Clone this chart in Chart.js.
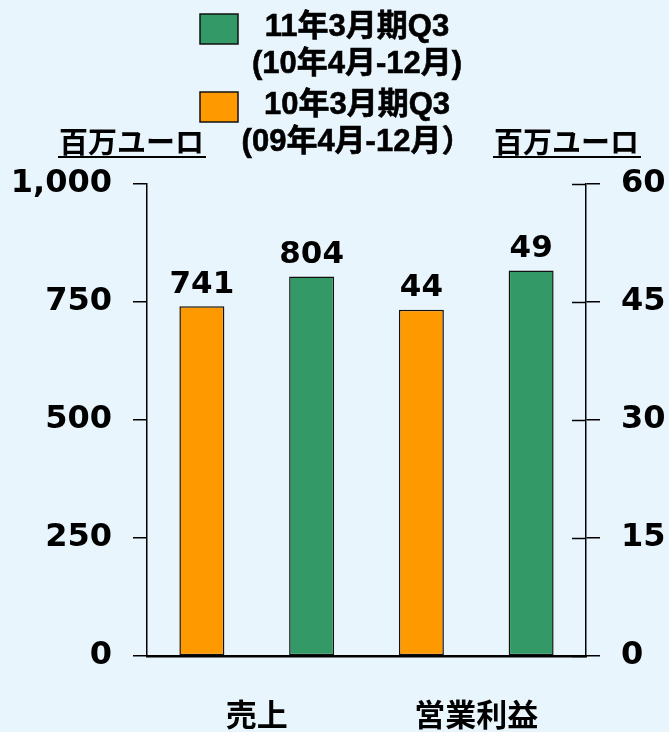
<!DOCTYPE html>
<html>
<head>
<meta charset="utf-8">
<script src="https://cdn.jsdelivr.net/npm/chart.js@4"></script>
<style>
  html, body { margin: 0; padding: 0; background: #e9f5fd; }
  canvas { display: block; }
</style>
</head>
<body>
<canvas id="chart" width="669" height="732"></canvas>
<script>
// categories and the two fiscal periods
const categories = ['売上', '営業利益'];
const currentLabel = ['11年3月期Q3', '(10年4月-12月)'];
const previousLabel = ['10年3月期Q3', '(09年4月-12月）'];
const unitLabel = '百万ユーロ';

// values: [売上, 営業利益]
const previousValues = [741, 44];
const currentValues = [804, 49];

const salesTicks = [0, 250, 500, 750, 1000];
const profitTicks = [0, 15, 30, 45, 60];

const GREEN = '#339966';
const ORANGE = '#ff9900';
const numFont = { family: "'DejaVu Sans', sans-serif", size: 32, weight: 'bold' };

// sales on the left scale, operating profit on the right scale
const onlyAt = (arr, i) => arr.map((v, j) => (j === i ? v : null));

const datasets = [
  { label: previousLabel.join(' '), data: onlyAt(previousValues, 0), backgroundColor: ORANGE, yAxisID: 'ySales' },
  { label: currentLabel.join(' '), data: onlyAt(currentValues, 0), backgroundColor: GREEN, yAxisID: 'ySales' },
  { label: previousLabel.join(' '), data: onlyAt(previousValues, 1), backgroundColor: ORANGE, yAxisID: 'yProfit' },
  { label: currentLabel.join(' '), data: onlyAt(currentValues, 1), backgroundColor: GREEN, yAxisID: 'yProfit' },
].map(d => ({ ...d, borderColor: '#111', borderWidth: 1.5, borderSkipped: false }));

const bgPlugin = {
  id: 'bg',
  beforeDraw(chart) {
    const { ctx, width, height } = chart;
    ctx.save();
    ctx.fillStyle = '#e9f5fd';
    ctx.fillRect(0, 0, width, height);
    ctx.restore();
  }
};

const decorPlugin = {
  id: 'decor',
  afterDraw(chart) {
    const { ctx } = chart;
    ctx.save();

    // legend
    const legendFont = "bold 31px 'Liberation Sans', 'Noto Sans CJK JP', sans-serif";
    const rows = [
      { color: GREEN, lines: currentLabel, top: 14 },
      { color: ORANGE, lines: previousLabel, top: 92 },
    ];
    ctx.font = legendFont;
    ctx.textAlign = 'center';
    ctx.textBaseline = 'middle';
    rows.forEach(r => {
      ctx.fillStyle = r.color;
      ctx.fillRect(200, r.top, 38, 30);
      ctx.strokeStyle = '#111';
      ctx.lineWidth = 1.5;
      ctx.strokeRect(200, r.top, 38, 30);
      ctx.fillStyle = '#000';
      ctx.strokeStyle = '#000';
      ctx.lineWidth = 0.6;
      r.lines.forEach((t, k) => {
        ctx.fillText(t, 357, r.top + 13 + k * 37);
        ctx.strokeText(t, 357, r.top + 13 + k * 37);
      });
    });

    // unit titles above both axes
    ctx.font = "bold 29px 'Noto Sans CJK JP', sans-serif";
    ctx.textAlign = 'left';
    ctx.textBaseline = 'middle';
    [58, 493].forEach(x => {
      ctx.fillStyle = '#000';
      ctx.fillText(unitLabel, x + 1, 142);
      const w = ctx.measureText(unitLabel).width;
      ctx.fillRect(x, 156, w + 3, 2);
    });

    // inner half of the right-hand tick marks
    const yR = chart.scales.yProfit;
    ctx.strokeStyle = '#000';
    ctx.lineWidth = 1.5;
    profitTicks.forEach(v => {
      const y = Math.round(yR.getPixelForValue(v)) + 0.5;
      ctx.beginPath();
      ctx.moveTo(yR.left - 14, y);
      ctx.lineTo(yR.left, y);
      ctx.stroke();
    });

    // value labels above the bars
    ctx.font = `bold 31px ${numFont.family}`;
    ctx.textAlign = 'center';
    ctx.textBaseline = 'bottom';
    ctx.fillStyle = '#000';
    chart.data.datasets.forEach((ds, i) => {
      chart.getDatasetMeta(i).data.forEach((bar, j) => {
        const v = ds.data[j];
        if (v == null) return;
        ctx.fillText(String(v), bar.x, bar.y - 6);
      });
    });
    ctx.restore();
  }
};

new Chart(document.getElementById('chart'), {
  type: 'bar',
  data: { labels: categories, datasets },
  options: {
    responsive: false,
    animation: false,
    locale: 'en-US',
    skipNull: true,
    categoryPercentage: 1,
    barPercentage: 0.41,
    layout: { padding: { top: 184, left: 0, right: 0, bottom: 0 } },
    plugins: { legend: { display: false }, tooltip: { enabled: false } },
    scales: {
      x: {
        grid: { display: false },
        border: { color: '#000', width: 2.5 },
        ticks: { color: '#000', padding: 32, font: { family: "'Noto Sans CJK JP', sans-serif", size: 31, weight: 'bold' } },
        afterFit(s) { s.height = 76; }
      },
      ySales: {
        position: 'left',
        min: 0, max: 1000,
        afterBuildTicks(s) { s.ticks = salesTicks.map(v => ({ value: v })); },
        grid: { drawOnChartArea: false, color: '#000', lineWidth: 1.5, tickLength: 14 },
        border: { color: '#000', width: 1.5 },
        ticks: { color: '#000', padding: 21, font: numFont },
        afterFit(s) { s.width = 147; }
      },
      yProfit: {
        position: 'right',
        min: 0, max: 60,
        afterBuildTicks(s) { s.ticks = profitTicks.map(v => ({ value: v })); },
        grid: { drawOnChartArea: false, color: '#000', lineWidth: 1.5, tickLength: 14 },
        border: { color: '#000', width: 1.5 },
        ticks: { color: '#000', padding: 21, font: numFont },
        afterFit(s) { s.width = 83; }
      }
    }
  },
  plugins: [bgPlugin, decorPlugin]
});
</script>
</body>
</html>
